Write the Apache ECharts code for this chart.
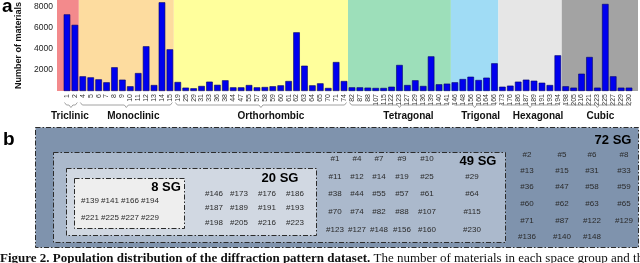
<!DOCTYPE html>
<html><head><meta charset="utf-8">
<script src="https://cdn.jsdelivr.net/npm/echarts@6/dist/echarts.min.js"></script>
<style>html,body{margin:0;padding:0;background:#fff}#c{width:640px;height:263px}</style>
</head><body><div id="c"></div>
<script>
// ---- data: panel a ----
const categories = ['1','2','4','5','6','7','8','9','10','11','12','13','14','15',
 '19','25','29','31','33','36','38','44','47','55','57','58','59','60','61','62','63','64','65','70','71','74',
 '82','87','88','107','115','122','123','127','129','136','139','140','141',
 '146','148','156','160','164','166',
 '173','176','186','187','189','191','193','194',
 '198','205','216','221','223','225','227','229','230'];
const counts = [7300,6300,
 1400,1300,1110,830,2260,1080,450,1710,4260,570,8450,3970,
 860,320,260,480,890,590,1020,350,350,570,350,380,450,540,950,5590,2410,540,730,290,2760,950,
 350,350,320,290,290,410,2480,570,1020,480,3300,640,700,
 830,1140,1360,1050,1270,2640,
 410,510,890,1080,980,790,570,3400,
 450,320,1650,3240,320,8290,1400,320,320];
const groupNames = ['Triclinic','Monoclinic','Orthorhombic','Tetragonal','Trigonal','Hexagonal','Cubic'];
const groupSizes = [2,12,22,13,6,8,9];
const yAxisTitle = 'Number of materials';

// ---- data: panel b ----
const boxTitles = ['72 SG','49 SG','20 SG','8 SG'];
const sg72 = ['#2','#5','#6','#8','#13','#15','#31','#33','#36','#47','#58','#59','#60','#62','#63','#65','#71','#87','#122','#129','#136','#140','#148'];
const sg49 = ['#1','#4','#7','#9','#10','#11','#12','#14','#19','#25','#29','#38','#44','#55','#57','#61','#64','#70','#74','#82','#88','#107','#115','#123','#127','#148','#156','#160','#230'];
const sg20 = ['#146','#173','#176','#186','#187','#189','#191','#193','#198','#205','#216','#223'];
const sg8 = ['#139','#141','#166','#194','#221','#225','#227','#229'];
const caption1 = 'Figure 2. Population distribution of the diffraction pattern dataset.';
const caption2 = ' The number of materials in each space group and the';

// ---- styling / layout ----
const bandColors = ['#f38a8c','#fddc9f','#ffff9c','#9ddfba','#a0dcf5','#e6e6e6','#a3a3a3'];
const labelShift = [-1,7,10,9,6,8,3];
const SANS = '"Liberation Sans", Arial, sans-serif';
const SERIF = '"Liberation Serif", "Times New Roman", serif';

const groupData = [];
{ let s = 0; groupSizes.forEach((n,g)=>{ groupData.push([s,0,s+n-1,g]); s += n; }); }

const boxes = [
  {x:35,y:127,w:603,h:120,fill:'#7f93ad', title:[613,140], items:sg72, cols:[527,562,592,624], rows:[155,171,187,204,221,237], first:4},
  {x:53,y:152,w:452,h:90,fill:'#abb9cc', title:[478,161], items:sg49, cols:[335,357,379,402,427,472], rows:[159,177,194,212,230], first:5},
  {x:66,y:168,w:250,h:67,fill:'#d1d8e2', title:[280,178], items:sg20, cols:[214,239,267,295], rows:[194,208,223], first:4},
  {x:74,y:178,w:110,h:50,fill:'#eeeeee', title:[166,187], items:sg8, cols:[90,110,130,150], rows:[201,218], first:4}
];
const graphics = [];
boxes.forEach((b,i)=>{
  graphics.push({type:'rect', shape:{x:b.x+0.5,y:b.y+0.5,width:b.w,height:b.h}, z:10+i,
    style:{fill:b.fill, stroke:'#2b2b2b', lineWidth:1, lineDash:[5,2,1.5,2]}});
  graphics.push({type:'text', x:b.title[0], y:b.title[1], z:20,
    style:{text:boxTitles[i], font:'bold 13px '+SANS, fill:'#000', align:'center', verticalAlign:'middle'}});
  b.items.forEach((t,k)=>{
    let r, c;
    if (k < b.first) { r = 0; c = k; } else { const kk = k - b.first; const nc = b.cols.length; r = 1 + Math.floor(kk/nc); c = kk % nc; }
    graphics.push({type:'text', x:b.cols[c], y:b.rows[r], z:20,
      style:{text:t, font:'8px '+SANS, fill:'#2a2a2a', align:'center', verticalAlign:'middle'}});
  });
});
graphics.push({type:'text', x:2, y:7, z:30, style:{text:'a', font:'bold 19px '+SANS, fill:'#000', verticalAlign:'middle'}});
graphics.push({type:'text', x:3, y:140, z:30, style:{text:'b', font:'bold 19px '+SANS, fill:'#000', verticalAlign:'middle'}});
graphics.push({type:'text', x:0, y:252, z:30, style:{
  text:'{b|'+caption1+'}{n|'+caption2+'}', verticalAlign:'top',
  rich:{b:{font:'bold 13px '+SERIF, fill:'#111'}, n:{font:'13px '+SERIF, fill:'#111'}}}});

const chart = echarts.init(document.getElementById('c'), null, {renderer:'canvas'});
chart.setOption({
  animation:false,
  textStyle:{fontFamily:SANS},
  grid:{left:63,right:7,top:0,bottom:172,containLabel:false, outerBoundsMode:'none'},
  xAxis:[{type:'category', data:categories, axisLine:{show:false}, axisTick:{show:false},
          axisLabel:{interval:0, rotate:90, fontSize:7, color:'#333', margin:3, fontFamily:SANS}},
         {type:'category', position:'top', data:categories, axisLine:{show:false},
          axisTick:{show:true, inside:true, length:4, lineStyle:{color:'rgba(80,80,80,0.45)'}},
          axisLabel:{show:false}}],
  yAxis:{type:'value', min:0, max:8667, interval:2000, splitLine:{show:false},
         axisLine:{show:false}, axisTick:{show:false},
         axisLabel:{fontSize:8.5, color:'#222', margin:10, showMinLabel:false, showMaxLabel:false, fontFamily:SANS,
                    formatter:function(v){ return String(v); }},
         name:yAxisTitle, nameLocation:'middle', nameGap:38, nameRotate:90,
         nameTextStyle:{fontSize:9, fontWeight:'bold', color:'#111', fontFamily:SANS}},
  series:[
    {type:'custom', coordinateSystem:'cartesian2d', clip:false, silent:true, z:1,
     encode:{x:0,y:1}, data:groupData,
     renderItem:function(params, api){
       const s=api.value(0), e=api.value(2), g=api.value(3);
       const cs=params.coordSys;
       const p0=api.coord([s,0])[0], p1=api.coord([e,0])[0];
       const bw=api.coord([1,0])[0]-api.coord([0,0])[0];
       let x0=p0-bw/2, x1=p1+bw/2;
       if (g===0) x0=cs.x-6;
       if (g===groupSizes.length-1) x1=cs.x+cs.width+5;
       return {type:'rect', shape:{x:x0,y:cs.y,width:x1-x0,height:cs.height}, style:{fill:bandColors[g]}};
     }},
    {type:'custom', coordinateSystem:'cartesian2d', clip:false, silent:true, z:3,
     encode:{x:0,y:1}, data:groupData,
     renderItem:function(params, api){
       const s=api.value(0), e=api.value(2), g=api.value(3);
       const p0=api.coord([s,0])[0], p1=api.coord([e,0])[0];
       const bw=api.coord([1,0])[0]-api.coord([0,0])[0];
       const x0=p0-bw/2+1.5, x1=p1+bw/2-1.5, xm=(x0+x1)/2, y=105;
       return {type:'group', children:[
         {type:'polyline', shape:{points:[[x0,y-2.5],[x0+2,y],[xm-2,y],[xm,y+2.5],[xm+2,y],[x1-2,y],[x1,y-2.5]]},
          style:{stroke:'#8a8a8a', lineWidth:0.8, fill:null}},
         {type:'text', style:{text:groupNames[g], x:xm+labelShift[g], y:116, align:'center', verticalAlign:'middle',
          textAlign:'center', textVerticalAlign:'middle', font:'bold 10px '+SANS, fill:'#111'}}
       ]};
     }},
    {type:'bar', data:counts, barCategoryGap:'17%', z:2,
     itemStyle:{color:'#0000ee', borderColor:'#00006a', borderWidth:0.6}}
  ],
  graphic:graphics
});
</script></body></html>
